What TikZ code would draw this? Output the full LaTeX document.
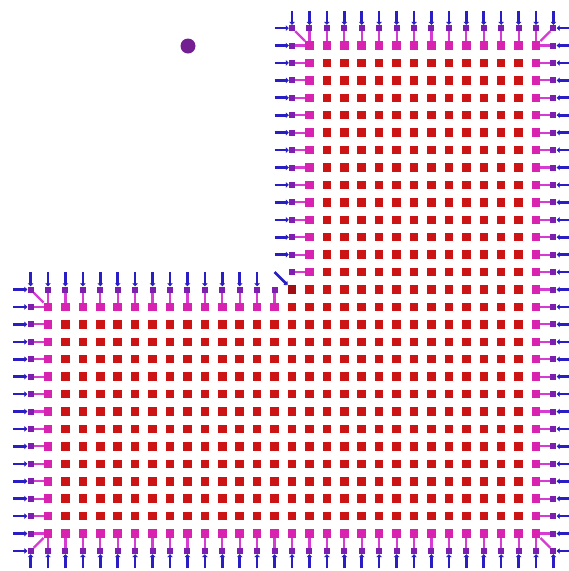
\documentclass[tikz,border=0pt]{standalone}
\usetikzlibrary{arrows.meta}
\definecolor{cred}{RGB}{205,20,20}
\definecolor{cdark}{RGB}{160,15,20}
\definecolor{cbnd}{RGB}{215,35,175}
\definecolor{cghost}{RGB}{125,30,175}
\definecolor{cblue}{RGB}{40,30,195}
\definecolor{clink}{RGB}{215,60,210}
\definecolor{cdot}{RGB}{115,30,145}
\pgfdeclarelayer{bg}
\pgfsetlayers{bg,main}
\tikzset{
  cell/.style={rectangle, minimum size=8.5pt, inner sep=0pt, fill=cred},
  bcell/.style={cell, fill=cbnd},
  gcell/.style={rectangle, minimum size=6pt, inner sep=0pt, fill=cghost},
  feed/.style={cblue, line width=2.6pt, -{Triangle[length=3pt,width=5.5pt]}},
  link/.style={clink, line width=2.2pt},
}
\begin{document}
\begin{tikzpicture}[x=1pt,y=-1pt]
\useasboundingbox (0,0) rectangle (569,571);
\foreach \i in {0,...,32}{\foreach \j in {0,...,32}{
  \coordinate (p-\i-\j) at ({13.14+17.43*\i},{10.64+17.43*\j});}}
% domain cells
\foreach \i in {2,...,30}{\foreach \j in {2,...,30}{
  \pgfmathtruncatemacro\ind{(\i>=17 || \j>=17) ? 1 : 0}
  \ifnum\ind=1
    \pgfmathtruncatemacro\bd{(\i==30 || \j==30 || \j==2 || \i==2 || (\j==17 && \i<=15) || (\i==17 && \j<=15)) ? 1 : 0}
    \ifnum\bd=1
      \node[bcell] (n-\i-\j) at (p-\i-\j) {};
    \else
      \node[cell] (n-\i-\j) at (p-\i-\j) {};
    \fi
  \fi
}}
% ghost cells
\foreach \i in {16,...,31}{\node[gcell] (g-\i-1) at (p-\i-1) {};}
\foreach \j in {2,...,30}{\node[gcell] (g-31-\j) at (p-31-\j) {};}
\foreach \i in {1,...,31}{\node[gcell] (g-\i-31) at (p-\i-31) {};}
\foreach \j in {16,...,30}{\node[gcell] (g-1-\j) at (p-1-\j) {};}
\foreach \i in {2,...,15}{\node[gcell] (g-\i-16) at (p-\i-16) {};}
\foreach \j in {2,...,15}{\node[gcell] (g-16-\j) at (p-16-\j) {};}
\node[cell, fill=cdark] (g-16-16) at (p-16-16) {};
% dot
\node[circle, fill=cdot, minimum size=15pt, inner sep=0pt] (dot) at (188,46) {};
\begin{pgfonlayer}{bg}
% feeds
\foreach \i in {16,...,31}{\draw[feed] (p-\i-0) -- (g-\i-1);}
\draw[feed] (p-15-1) -- (g-16-1);
\draw[feed] (p-32-1) -- (g-31-1);
\foreach \j in {2,...,31}{\draw[feed] (p-32-\j) -- (g-31-\j);}
\foreach \i in {1,...,31}{\draw[feed] (p-\i-32) -- (g-\i-31);}
\foreach \j in {16,...,31}{\draw[feed] (p-0-\j) -- (g-1-\j);}
\draw[feed] (p-1-15) -- (g-1-16);
\foreach \i in {2,...,14}{\draw[feed] (p-\i-15) -- (g-\i-16);}
\foreach \j in {2,...,14}{\draw[feed] (p-15-\j) -- (g-16-\j);}
\draw[feed] (p-15-15) -- (g-16-16);
% links
\foreach \i in {17,...,30}{\draw[link] (g-\i-1) -- (n-\i-2);}
\draw[link] (g-16-1) -- (n-17-2);
\draw[link] (g-31-1) -- (n-30-2);
\foreach \j in {2,...,30}{\draw[link] (g-31-\j) -- (n-30-\j);}
\draw[link] (g-31-31) -- (n-30-30);
\foreach \i in {2,...,30}{\draw[link] (g-\i-31) -- (n-\i-30);}
\draw[link] (g-1-31) -- (n-2-30);
\foreach \j in {17,...,30}{\draw[link] (g-1-\j) -- (n-2-\j);}
\draw[link] (g-1-16) -- (n-2-17);
\foreach \i in {2,...,15}{\draw[link] (g-\i-16) -- (n-\i-17);}
\foreach \j in {2,...,15}{\draw[link] (g-16-\j) -- (n-17-\j);}
\end{pgfonlayer}
\end{tikzpicture}
\end{document}
